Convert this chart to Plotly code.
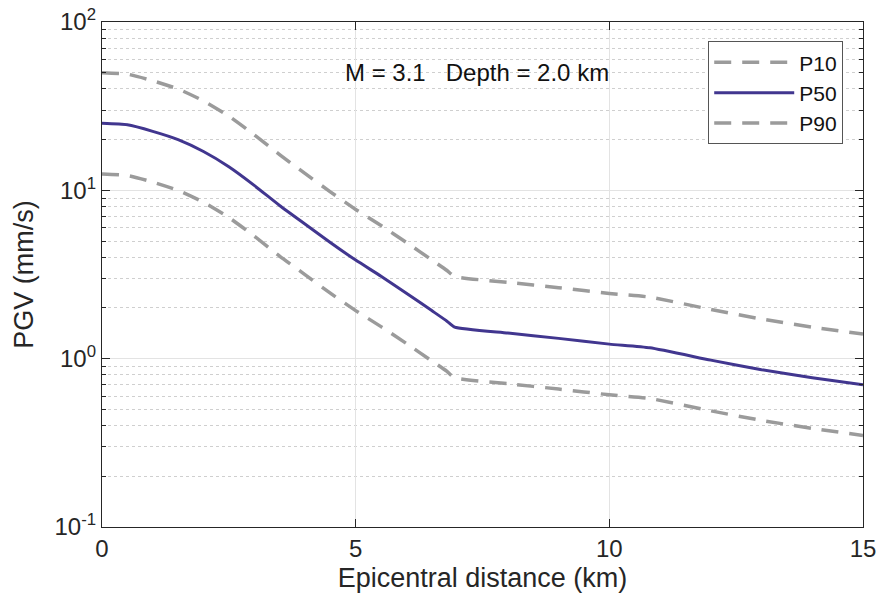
import plotly.graph_objects as go

# Epicentral distance (km)
distance = [0, 0.5, 1, 1.5, 2, 2.5, 3, 3.5, 4, 4.5, 5, 5.5, 6, 6.5, 6.8, 6.95,
            8, 9, 10, 10.8, 12, 13, 14, 15]
# PGV percentiles (mm/s)
p10 = [50.0, 49.0, 44.8, 40.0, 34.0, 27.6, 21.4, 16.3, 12.6, 9.8, 7.7, 6.18,
       4.9, 3.86, 3.34, 3.08, 2.84, 2.64, 2.44, 2.32, 1.96, 1.72, 1.54, 1.40]
p50 = [25.0, 24.5, 22.4, 20.0, 17.0, 13.8, 10.7, 8.13, 6.31, 4.90, 3.85, 3.09,
       2.45, 1.93, 1.67, 1.54, 1.42, 1.32, 1.22, 1.16, 0.98, 0.86, 0.77, 0.70]
p90 = [12.5, 12.25, 11.2, 10.0, 8.5, 6.9, 5.35, 4.07, 3.16, 2.45, 1.93, 1.55,
       1.23, 0.97, 0.84, 0.77, 0.71, 0.66, 0.61, 0.58, 0.49, 0.43, 0.385, 0.35]

x_ticks = [0, 5, 10, 15]
y_ticks = [0.1, 1, 10, 100]
y_ticktext = ["10<sup>-1</sup>", "10<sup>0</sup>", "10<sup>1</sup>", "10<sup>2</sup>"]
note = "M = 3.1   Depth = 2.0 km"

FONT = "Liberation Sans, Arial, Helvetica, sans-serif"
AX = "#262626"
GRAY = "#9b9b9b"
PURPLE = "#41368f"

fig = go.Figure()
fig.add_trace(go.Scatter(x=distance, y=p10, name="P10", mode="lines",
                         line=dict(color=GRAY, width=3.5, dash="17px,11px",
                                   shape="spline", smoothing=0.5)))
fig.add_trace(go.Scatter(x=distance, y=p50, name="P50", mode="lines",
                         line=dict(color=PURPLE, width=3,
                                   shape="spline", smoothing=0.5)))
fig.add_trace(go.Scatter(x=distance, y=p90, name="P90", mode="lines",
                         line=dict(color=GRAY, width=3.5, dash="17px,11px",
                                   shape="spline", smoothing=0.5)))

fig.add_annotation(x=4.76, y=1.70, xref="x", yref="y", text=note,
                   showarrow=False, xanchor="left", yanchor="middle",
                   font=dict(family=FONT, size=24, color="#111111"))

fig.update_layout(
    width=879, height=604,
    margin=dict(l=102, r=16, t=22, b=77),
    paper_bgcolor="white", plot_bgcolor="white",
    font=dict(family=FONT, color=AX),
    showlegend=True,
    legend=dict(x=0.974, y=0.962, xanchor="right", yanchor="top",
                bgcolor="white", bordercolor="#555555", borderwidth=1,
                font=dict(family=FONT, size=21, color="#111111"),
                itemwidth=80, tracegroupgap=0),
    xaxis=dict(
        range=[0, 15], tickvals=x_ticks, ticks="inside", ticklen=8,
        tickcolor=AX, showline=True, linecolor=AX, linewidth=1.3,
        mirror="ticks", showgrid=True, gridcolor="#e3e3e3", gridwidth=1,
        zeroline=False, tickfont=dict(size=24, color=AX), automargin=False,
        ticklabeloverflow="allow",
        title=dict(text="Epicentral distance (km)", font=dict(size=27, color=AX),
                   standoff=7),
    ),
    yaxis=dict(
        type="log", range=[-1, 2], tickvals=y_ticks, ticktext=y_ticktext,
        ticks="inside", ticklen=8, tickcolor=AX, showline=True, linecolor=AX,
        linewidth=1.3, mirror="ticks", showgrid=True, gridcolor="#e3e3e3",
        gridwidth=1, zeroline=False, tickfont=dict(size=24, color=AX),
        automargin=False, ticklabeloverflow="allow",
        minor=dict(ticks="inside", ticklen=4, tickcolor=AX, showgrid=True,
                   gridcolor="#cfcfcf", griddash="dot", gridwidth=1,
                   dtick="D1"),
        title=dict(text="PGV (mm/s)", font=dict(size=27, color=AX), standoff=12),
    ),
)

fig.write_html("out.html",
               config={"displayModeBar": False},
               post_script="document.body.style.margin='0';")
